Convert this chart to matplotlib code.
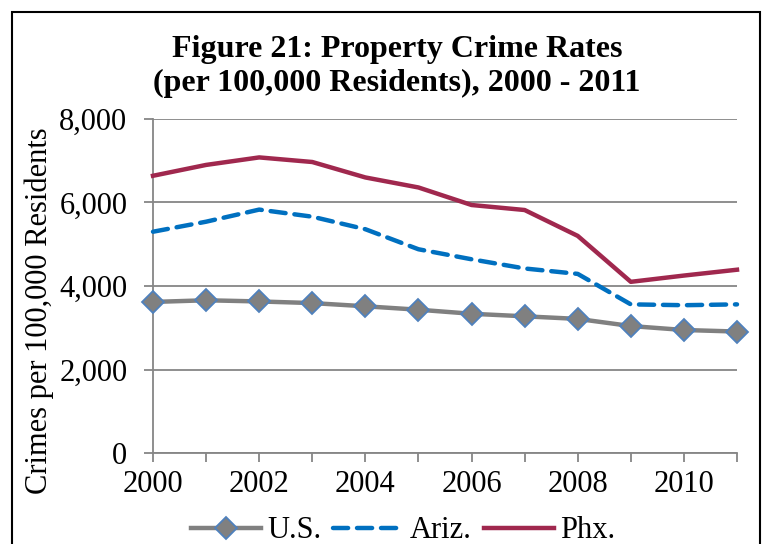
import matplotlib
matplotlib.use("Agg")
import matplotlib.pyplot as plt
from matplotlib.patches import Rectangle
from matplotlib.ticker import FuncFormatter

years = list(range(2000, 2012))
us = [3618, 3658, 3630, 3591, 3514, 3432, 3335, 3274, 3212, 3041, 2946, 2909]
ariz = [5300, 5540, 5830, 5660, 5360, 4880, 4640, 4420, 4290, 3560, 3540, 3560]
phx = [6640, 6900, 7080, 6970, 6600, 6360, 5940, 5820, 5200, 4100, 4250, 4390]

title = "Figure 21: Property Crime Rates\n(per 100,000 Residents), 2000 - 2011"
ylabel = "Crimes per 100,000 Residents"
yticks = [0, 2000, 4000, 6000, 8000]
xlabels = [2000, 2002, 2004, 2006, 2008, 2010]

plt.rcParams['font.family'] = ['Liberation Serif', 'DejaVu Serif']

fig = plt.figure(figsize=(7.72, 5.44), dpi=100)
ax = fig.add_axes([153/772, 91/544, (737-153)/772, (453-119)/544])

grid_c = '#868686'
ax.plot(years, phx, color='#A0284E', lw=3.2, label='Phx.', zorder=3, clip_on=False)
ax.plot(years, ariz, color='#0070C0', lw=3.2, ls=(0, (3.4, 2.0)), label='Ariz.', zorder=3,
        dash_capstyle='round', clip_on=False)
ax.plot(years, us, color='#808080', lw=3.2, marker='D', markersize=11,
        markerfacecolor='#808080', markeredgecolor='#4F81BD', markeredgewidth=1.3,
        label='U.S.', zorder=4, clip_on=False)

ax.set_xlim(2000, 2011)
ax.set_ylim(0, 8000)
ax.set_yticks(yticks)
ax.yaxis.set_major_formatter(FuncFormatter(lambda v, p: f"{int(v):,}"))
ax.set_xticks(xlabels)
ax.set_xticks(years, minor=True)
ax.set_xticklabels([str(x) for x in xlabels])
ax.grid(axis='y', color=grid_c, lw=1.3, zorder=1)
ax.set_axisbelow(True)
for s in ['top', 'right']:
    ax.spines[s].set_visible(False)
for s in ['left', 'bottom']:
    ax.spines[s].set_color(grid_c)
    ax.spines[s].set_linewidth(1.3)
ax.tick_params(axis='both', which='both', color=grid_c, width=1.3, length=6.5,
               labelsize=22, direction='out')
ax.tick_params(axis='x', which='both', pad=6)
ax.tick_params(axis='y', pad=12)

fig.text(39/772, 1 - 311/544, ylabel, ha='center', va='center', rotation=90, fontsize=22)

fig.text(397/772, 1 - 66.5/544, title, ha='center', va='center', fontsize=23,
         fontweight='bold', linespacing=1.22)

handles, labels = ax.get_legend_handles_labels()
order = [2, 1, 0]
leg = fig.legend([handles[i] for i in order], [labels[i] for i in order],
                 loc='center', bbox_to_anchor=(403/772, 1 - 531/544), ncol=3, frameon=False,
                 fontsize=22, handlelength=2.3, handletextpad=0.2, columnspacing=0.4,
                 borderaxespad=0, borderpad=0)

fig.patches.append(Rectangle((12/772, -0.05), (760-12)/772, (544-12)/544 + 0.05,
                             transform=fig.transFigure, fill=False, ec='black', lw=1.5))

fig.savefig('out.png', dpi=100)
